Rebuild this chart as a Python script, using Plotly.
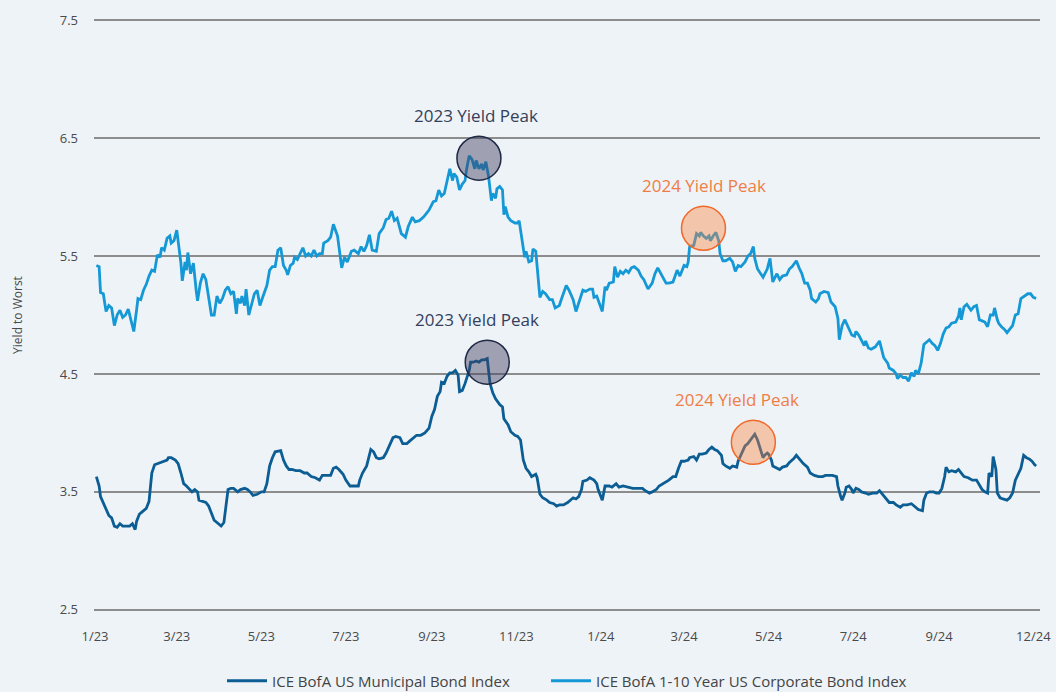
import plotly.graph_objects as go

# ---------------- data ----------------
corp_dates = [
    "2023-01-02","2023-01-04","2023-01-05","2023-01-07","2023-01-09","2023-01-11","2023-01-13","2023-01-15",
    "2023-01-17","2023-01-19","2023-01-21","2023-01-23","2023-01-25","2023-01-27","2023-01-29","2023-01-31",
    "2023-02-01","2023-02-03","2023-02-05","2023-02-07","2023-02-09","2023-02-11","2023-02-13","2023-02-15",
    "2023-02-17","2023-02-18","2023-02-20","2023-02-22","2023-02-24","2023-02-25","2023-02-27","2023-03-01",
    "2023-03-02","2023-03-04","2023-03-05","2023-03-07","2023-03-08","2023-03-09","2023-03-11","2023-03-13",
    "2023-03-15","2023-03-16","2023-03-18","2023-03-20","2023-03-22","2023-03-24","2023-03-26","2023-03-28",
    "2023-03-30","2023-04-01","2023-04-03","2023-04-05","2023-04-07","2023-04-09","2023-04-11","2023-04-13",
    "2023-04-14","2023-04-16","2023-04-17","2023-04-19","2023-04-20","2023-04-22","2023-04-24","2023-04-26",
    "2023-04-28","2023-04-30","2023-05-02","2023-05-05","2023-05-07","2023-05-09","2023-05-11","2023-05-13",
    "2023-05-15","2023-05-17","2023-05-19","2023-05-20","2023-05-22","2023-05-24","2023-05-25","2023-05-27",
    "2023-05-29","2023-05-31","2023-06-02","2023-06-04","2023-06-06","2023-06-08","2023-06-10","2023-06-12",
    "2023-06-14","2023-06-15","2023-06-18","2023-06-20","2023-06-22","2023-06-24","2023-06-25","2023-06-28",
    "2023-06-30","2023-07-02","2023-07-05","2023-07-07","2023-07-10","2023-07-12","2023-07-14","2023-07-16",
    "2023-07-18","2023-07-20","2023-07-23","2023-07-25","2023-07-28","2023-07-30","2023-08-01","2023-08-03",
    "2023-08-05","2023-08-07","2023-08-10","2023-08-13","2023-08-15","2023-08-18","2023-08-20","2023-08-23",
    "2023-08-26","2023-08-28","2023-08-30","2023-09-02","2023-09-04","2023-09-06","2023-09-08","2023-09-10",
    "2023-09-12","2023-09-14","2023-09-16","2023-09-17","2023-09-19","2023-09-21","2023-09-23","2023-09-25",
    "2023-09-26","2023-09-28","2023-09-30","2023-10-02","2023-10-03","2023-10-05","2023-10-07","2023-10-08",
    "2023-10-10","2023-10-12","2023-10-14","2023-10-15","2023-10-17","2023-10-18","2023-10-20","2023-10-22",
    "2023-10-23","2023-10-24","2023-10-26","2023-10-28","2023-10-31","2023-11-02","2023-11-03","2023-11-05",
    "2023-11-07","2023-11-08","2023-11-10","2023-11-12","2023-11-13","2023-11-15","2023-11-18","2023-11-20",
    "2023-11-22","2023-11-25","2023-11-27","2023-11-29","2023-12-02","2023-12-04","2023-12-07","2023-12-09",
    "2023-12-12","2023-12-14","2023-12-16","2023-12-19","2023-12-21","2023-12-24","2023-12-26","2023-12-27",
    "2023-12-29","2023-12-31",
    "2024-01-02","2024-01-04","2024-01-05","2024-01-07","2024-01-10","2024-01-11","2024-01-13","2024-01-15",
    "2024-01-17","2024-01-19","2024-01-21","2024-01-23","2024-01-25","2024-01-28","2024-01-30","2024-02-01",
    "2024-02-04","2024-02-07","2024-02-09","2024-02-11","2024-02-14","2024-02-17","2024-02-19","2024-02-22",
    "2024-02-25","2024-02-27","2024-03-01","2024-03-03","2024-03-04","2024-03-05","2024-03-08","2024-03-10",
    "2024-03-12","2024-03-13","2024-03-15","2024-03-17","2024-03-19","2024-03-20","2024-03-22","2024-03-24",
    "2024-03-26","2024-03-27","2024-03-29","2024-03-31","2024-04-03","2024-04-05","2024-04-07","2024-04-09",
    "2024-04-11","2024-04-14","2024-04-16","2024-04-18","2024-04-20","2024-04-21","2024-04-23","2024-04-25",
    "2024-04-27","2024-04-30","2024-05-02","2024-05-04","2024-05-05","2024-05-07","2024-05-09","2024-05-11",
    "2024-05-14","2024-05-16","2024-05-18","2024-05-20","2024-05-21","2024-05-23","2024-05-25","2024-05-27",
    "2024-05-29","2024-05-31","2024-06-01","2024-06-04","2024-06-06","2024-06-07","2024-06-10","2024-06-13",
    "2024-06-15","2024-06-18","2024-06-20","2024-06-21","2024-06-23","2024-06-25","2024-06-27","2024-06-30",
    "2024-07-02","2024-07-03","2024-07-05","2024-07-07","2024-07-09","2024-07-10","2024-07-12","2024-07-14",
    "2024-07-17","2024-07-20","2024-07-21","2024-07-23","2024-07-26","2024-07-27","2024-07-30","2024-08-01",
    "2024-08-02","2024-08-04","2024-08-06","2024-08-08","2024-08-10","2024-08-12","2024-08-14","2024-08-15",
    "2024-08-17","2024-08-19","2024-08-21","2024-08-23","2024-08-25","2024-08-27","2024-08-29","2024-08-31",
    "2024-09-02","2024-09-04","2024-09-06","2024-09-08","2024-09-10","2024-09-13","2024-09-15","2024-09-16",
    "2024-09-17","2024-09-19","2024-09-21","2024-09-24","2024-09-26","2024-09-28","2024-09-30","2024-10-02",
    "2024-10-04","2024-10-06","2024-10-08","2024-10-10","2024-10-11","2024-10-13","2024-10-14","2024-10-16",
    "2024-10-18","2024-10-20","2024-10-22","2024-10-24","2024-10-26","2024-10-28","2024-10-30","2024-11-02",
    "2024-11-04","2024-11-06","2024-11-08","2024-11-10",
]
corp_yield = [
    5.42,5.41,5.19,5.18,5.03,5.08,5.06,4.91,
    5.00,5.04,4.98,5.00,5.05,4.96,4.86,5.04,
    5.14,5.13,5.21,5.26,5.33,5.38,5.37,5.51,
    5.49,5.57,5.55,5.65,5.67,5.61,5.63,5.72,
    5.63,5.44,5.29,5.45,5.38,5.53,5.35,5.44,
    5.21,5.12,5.27,5.35,5.30,5.13,5.00,5.00,
    5.16,5.10,5.14,5.21,5.24,5.18,5.20,5.01,
    5.14,5.10,5.16,5.08,5.22,5.00,5.10,5.18,
    5.21,5.08,5.15,5.25,5.38,5.41,5.41,5.55,
    5.57,5.42,5.38,5.34,5.42,5.44,5.49,5.47,
    5.52,5.57,5.50,5.52,5.50,5.55,5.50,5.52,
    5.52,5.61,5.63,5.66,5.77,5.69,5.67,5.40,
    5.49,5.45,5.54,5.55,5.52,5.58,5.54,5.59,
    5.68,5.55,5.54,5.69,5.74,5.81,5.82,5.88,
    5.80,5.82,5.69,5.66,5.75,5.83,5.79,5.80,
    5.83,5.86,5.89,5.96,5.97,6.06,6.01,6.03,
    6.13,6.24,6.14,6.20,6.17,6.06,6.11,6.14,
    6.23,6.35,6.32,6.24,6.31,6.24,6.28,6.23,
    6.30,6.17,5.97,6.03,5.99,6.07,6.09,6.06,
    5.85,5.92,5.83,5.80,5.78,5.78,5.80,5.66,
    5.49,5.54,5.45,5.46,5.56,5.54,5.15,5.20,
    5.18,5.13,5.13,5.06,5.08,5.15,5.25,5.21,
    5.13,5.03,5.10,5.21,5.20,5.22,5.22,5.15,
    5.16,5.10,
    5.03,5.24,5.21,5.27,5.28,5.41,5.32,5.37,
    5.35,5.38,5.36,5.40,5.41,5.38,5.33,5.30,
    5.22,5.27,5.35,5.40,5.34,5.27,5.27,5.28,
    5.38,5.33,5.42,5.41,5.45,5.58,5.59,5.69,
    5.67,5.70,5.67,5.65,5.67,5.63,5.67,5.70,
    5.63,5.52,5.46,5.46,5.48,5.45,5.37,5.42,
    5.41,5.45,5.50,5.52,5.58,5.48,5.39,5.35,
    5.32,5.39,5.48,5.28,5.30,5.35,5.30,5.33,
    5.34,5.39,5.41,5.44,5.46,5.40,5.35,5.27,
    5.27,5.21,5.14,5.11,5.14,5.18,5.20,5.19,
    5.11,5.07,4.97,4.79,4.91,4.96,4.91,4.83,
    4.82,4.86,4.83,4.79,4.74,4.78,4.72,4.71,
    4.73,4.78,4.73,4.64,4.59,4.55,4.53,4.50,
    4.46,4.49,4.47,4.47,4.44,4.51,4.48,4.53,
    4.50,4.59,4.75,4.77,4.79,4.76,4.74,4.70,
    4.76,4.84,4.89,4.90,4.93,4.94,4.99,5.06,
    4.96,5.07,5.09,5.04,5.07,5.08,4.96,4.95,
    4.94,4.90,5.00,5.00,5.06,4.96,4.93,4.90,
    4.88,4.85,4.88,4.91,5.00,5.01,5.14,5.16,
    5.18,5.18,5.15,5.14,
]

muni_dates = [
    "2023-01-02","2023-01-04","2023-01-05","2023-01-07","2023-01-09","2023-01-11","2023-01-13","2023-01-15",
    "2023-01-17","2023-01-19","2023-01-21","2023-01-24","2023-01-26","2023-01-28","2023-01-30","2023-01-31",
    "2023-02-02","2023-02-04","2023-02-07","2023-02-09","2023-02-10","2023-02-11","2023-02-13","2023-02-15",
    "2023-02-17","2023-02-19","2023-02-22","2023-02-23","2023-02-25","2023-02-28","2023-03-02","2023-03-04",
    "2023-03-06","2023-03-08","2023-03-10","2023-03-12","2023-03-14","2023-03-16","2023-03-17","2023-03-20",
    "2023-03-22","2023-03-24","2023-03-26","2023-03-28","2023-03-30","2023-04-02","2023-04-04","2023-04-05",
    "2023-04-07","2023-04-09","2023-04-11","2023-04-14","2023-04-16","2023-04-19","2023-04-21","2023-04-23",
    "2023-04-25","2023-04-28","2023-05-01","2023-05-03","2023-05-05","2023-05-07","2023-05-09","2023-05-11",
    "2023-05-14","2023-05-15","2023-05-17","2023-05-19","2023-05-21","2023-05-23","2023-05-26","2023-05-29",
    "2023-06-01","2023-06-03","2023-06-06","2023-06-09","2023-06-12","2023-06-14","2023-06-17","2023-06-20",
    "2023-06-22","2023-06-24","2023-06-26","2023-06-29","2023-07-01","2023-07-04","2023-07-07","2023-07-10",
    "2023-07-11","2023-07-13","2023-07-16","2023-07-18","2023-07-19","2023-07-21","2023-07-23","2023-07-25",
    "2023-07-28","2023-07-30","2023-08-01","2023-08-04","2023-08-06","2023-08-09","2023-08-11","2023-08-14",
    "2023-08-16","2023-08-19","2023-08-21","2023-08-24","2023-08-27","2023-08-30","2023-09-01","2023-09-03",
    "2023-09-05","2023-09-07","2023-09-08","2023-09-10","2023-09-12","2023-09-14","2023-09-16","2023-09-18",
    "2023-09-20","2023-09-21","2023-09-23","2023-09-25","2023-09-28","2023-09-29","2023-10-01","2023-10-03",
    "2023-10-05","2023-10-07","2023-10-09","2023-10-11","2023-10-12","2023-10-13","2023-10-15","2023-10-17",
    "2023-10-20","2023-10-22","2023-10-23","2023-10-26","2023-10-28","2023-10-31","2023-11-02","2023-11-04",
    "2023-11-06","2023-11-08","2023-11-10","2023-11-12","2023-11-15","2023-11-16","2023-11-18","2023-11-20",
    "2023-11-23","2023-11-25","2023-11-28","2023-11-30","2023-12-02","2023-12-05","2023-12-08","2023-12-10",
    "2023-12-12","2023-12-14","2023-12-16","2023-12-18","2023-12-19","2023-12-22","2023-12-24","2023-12-27",
    "2023-12-29","2023-12-30",
    "2024-01-01","2024-01-02","2024-01-03","2024-01-04","2024-01-07","2024-01-09","2024-01-12","2024-01-14",
    "2024-01-17","2024-01-20","2024-01-24","2024-01-28","2024-01-31","2024-02-02","2024-02-05","2024-02-07",
    "2024-02-10","2024-02-12","2024-02-15","2024-02-17","2024-02-19","2024-02-22","2024-02-24","2024-02-26",
    "2024-02-28","2024-03-01","2024-03-04","2024-03-05","2024-03-08","2024-03-10","2024-03-12","2024-03-14",
    "2024-03-17","2024-03-19","2024-03-21","2024-03-23","2024-03-25","2024-03-28","2024-03-29","2024-03-31",
    "2024-04-03","2024-04-05","2024-04-08","2024-04-09","2024-04-11","2024-04-14","2024-04-16","2024-04-18",
    "2024-04-20","2024-04-21","2024-04-23","2024-04-25","2024-04-27","2024-04-28","2024-04-30","2024-05-01",
    "2024-05-03","2024-05-04","2024-05-07","2024-05-09","2024-05-11","2024-05-14","2024-05-16","2024-05-19",
    "2024-05-21","2024-05-24","2024-05-26","2024-05-29","2024-05-31","2024-06-03","2024-06-06","2024-06-09",
    "2024-06-11","2024-06-14","2024-06-16","2024-06-19","2024-06-20","2024-06-22","2024-06-23","2024-06-25",
    "2024-06-26","2024-06-28","2024-06-30","2024-07-01","2024-07-03","2024-07-05","2024-07-07","2024-07-10",
    "2024-07-12","2024-07-15","2024-07-18","2024-07-20","2024-07-22","2024-07-25","2024-07-27","2024-07-30",
    "2024-08-01","2024-08-04","2024-08-06","2024-08-09","2024-08-12","2024-08-14","2024-08-17","2024-08-20",
    "2024-08-21","2024-08-23","2024-08-25","2024-08-28","2024-08-30","2024-09-01","2024-09-03","2024-09-05",
    "2024-09-06","2024-09-08","2024-09-10","2024-09-13","2024-09-15","2024-09-17","2024-09-19","2024-09-22",
    "2024-09-25","2024-09-28","2024-09-30","2024-10-02","2024-10-04","2024-10-06","2024-10-07","2024-10-09",
    "2024-10-10","2024-10-12","2024-10-13","2024-10-15","2024-10-17","2024-10-20","2024-10-22","2024-10-24",
    "2024-10-26","2024-10-28","2024-10-30","2024-11-01","2024-11-03","2024-11-05","2024-11-07","2024-11-09",
    "2024-11-10",
]
muni_yield = [
    3.63,3.55,3.46,3.41,3.35,3.30,3.28,3.21,
    3.20,3.23,3.21,3.21,3.21,3.23,3.18,3.25,
    3.31,3.33,3.36,3.42,3.55,3.66,3.73,3.74,
    3.75,3.76,3.77,3.79,3.79,3.77,3.74,3.66,
    3.57,3.55,3.52,3.50,3.52,3.50,3.43,3.42,
    3.41,3.38,3.32,3.26,3.24,3.21,3.24,3.35,
    3.52,3.53,3.53,3.50,3.52,3.53,3.52,3.50,
    3.47,3.48,3.50,3.50,3.57,3.72,3.79,3.84,
    3.85,3.85,3.77,3.72,3.69,3.69,3.68,3.68,
    3.66,3.66,3.63,3.62,3.60,3.64,3.64,3.64,
    3.70,3.71,3.69,3.65,3.60,3.55,3.55,3.55,
    3.60,3.66,3.72,3.81,3.86,3.84,3.79,3.78,
    3.79,3.83,3.88,3.96,3.97,3.96,3.91,3.91,
    3.93,3.96,3.98,3.98,4.00,4.04,4.14,4.20,
    4.31,4.35,4.43,4.42,4.48,4.51,4.51,4.53,
    4.49,4.35,4.36,4.42,4.53,4.60,4.60,4.61,
    4.60,4.62,4.62,4.63,4.51,4.42,4.34,4.29,
    4.24,4.22,4.12,4.07,4.01,3.98,3.97,3.94,
    3.77,3.70,3.67,3.63,3.65,3.62,3.48,3.45,
    3.43,3.41,3.40,3.38,3.39,3.39,3.41,3.43,
    3.45,3.44,3.46,3.52,3.59,3.60,3.62,3.60,
    3.57,3.52,
    3.46,3.43,3.49,3.55,3.55,3.54,3.57,3.54,
    3.55,3.54,3.53,3.53,3.53,3.51,3.49,3.50,
    3.52,3.55,3.57,3.59,3.60,3.63,3.63,3.70,
    3.76,3.76,3.77,3.79,3.80,3.77,3.82,3.82,
    3.83,3.86,3.88,3.86,3.85,3.81,3.74,3.72,
    3.70,3.72,3.71,3.76,3.81,3.89,3.91,3.94,
    3.98,3.99,3.94,3.87,3.79,3.81,3.83,3.82,
    3.77,3.72,3.70,3.69,3.71,3.72,3.75,3.78,
    3.81,3.77,3.74,3.71,3.66,3.64,3.63,3.63,
    3.64,3.64,3.64,3.63,3.55,3.46,3.43,3.49,
    3.54,3.55,3.52,3.49,3.53,3.52,3.50,3.49,
    3.48,3.49,3.49,3.51,3.48,3.44,3.41,3.41,
    3.39,3.37,3.39,3.39,3.40,3.38,3.35,3.34,
    3.43,3.49,3.50,3.50,3.49,3.49,3.53,3.63,
    3.71,3.67,3.68,3.67,3.69,3.66,3.63,3.62,
    3.60,3.60,3.56,3.52,3.50,3.49,3.66,3.63,
    3.80,3.69,3.49,3.45,3.44,3.43,3.45,3.49,
    3.60,3.65,3.70,3.81,3.79,3.78,3.76,3.73,
    3.72,
]

series_names = ["ICE BofA US Municipal Bond Index", "ICE BofA 1-10 Year US Corporate Bond Index"]

# x-axis ticks (last label sits at the end of the data)
tick_dates = ["2023-01-01","2023-03-01","2023-05-01","2023-07-01","2023-09-01","2023-11-01",
              "2024-01-01","2024-03-01","2024-05-01","2024-07-01","2024-09-01","2024-11-08"]
tick_labels = ["1/23","3/23","5/23","7/23","9/23","11/23","1/24","3/24","5/24","7/24","9/24","12/24"]
y_ticks = [2.5, 3.5, 4.5, 5.5, 6.5, 7.5]

# yield-peak call-outs
peak_labels = ["2023 Yield Peak", "2023 Yield Peak", "2024 Yield Peak", "2024 Yield Peak"]
peak_dates = ["2023-10-05", "2023-10-11", "2024-03-15", "2024-04-20"]
peak_values = [6.33, 4.60, 5.735, 3.92]

# ---------------- styling ----------------
BG = "#eef3f7"
MUNI_COLOR = "#0b5d93"
CORP_COLOR = "#1598d6"
GRID = "#8c8c8c"
FONT = "Open Sans, Noto Sans, sans-serif"
peak_styles = [
    dict(fill="rgba(62,62,95,0.45)", line="#1e2945", text="#34405c", dx=-3),
    dict(fill="rgba(62,62,95,0.45)", line="#1e2945", text="#34405c", dx=-10),
    dict(fill="rgba(250,130,60,0.40)", line="#f0692a", text="#f07d45", dx=1),
    dict(fill="rgba(250,130,60,0.40)", line="#f0692a", text="#f07d45", dx=-16),
]

fig = go.Figure()
fig.add_trace(go.Scatter(x=muni_dates, y=muni_yield, mode="lines", name=series_names[0],
                         line=dict(color=MUNI_COLOR, width=2.8), legend="legend"))
fig.add_trace(go.Scatter(x=corp_dates, y=corp_yield, mode="lines", name=series_names[1],
                         line=dict(color=CORP_COLOR, width=2.8), legend="legend2"))

R = 22
for lab, d, v, st in zip(peak_labels, peak_dates, peak_values, peak_styles):
    fig.add_shape(type="circle", xref="x", yref="y",
                  xsizemode="pixel", ysizemode="pixel",
                  xanchor=d, yanchor=v, x0=-R, x1=R, y0=-R, y1=R,
                  fillcolor=st["fill"], line=dict(color=st["line"], width=1.5),
                  layer="above")
    fig.add_annotation(x=d, y=v, text=lab, showarrow=False,
                       xshift=st["dx"], yshift=43,
                       font=dict(family=FONT, size=17, color=st["text"]))

legend_common = dict(orientation="h", xanchor="left", yref="container",
                     y=(692 - 681) / 692, yanchor="middle",
                     font=dict(size=15, color="#444444"), itemwidth=40,
                     bgcolor="rgba(0,0,0,0)")

fig.update_layout(
    width=1056, height=692,
    paper_bgcolor=BG, plot_bgcolor=BG,
    margin=dict(l=94, r=16, t=19, b=81, autoexpand=False),
    font=dict(family=FONT, color="#4a4a4a"),
    showlegend=True,
    legend=dict(x=(222 - 94) / 946, **legend_common),
    legend2=dict(x=(546 - 94) / 946, **legend_common),
    xaxis=dict(type="date", range=["2022-12-31 07:00", "2024-11-12 19:00"],
               tickmode="array", tickvals=tick_dates, ticktext=tick_labels,
               showgrid=False, zeroline=False, showline=False, ticks="", automargin=False,
               tickfont=dict(size=13, color="#4a4a4a"), ticklabelstandoff=16),
    yaxis=dict(range=[2.49, 7.51], tickmode="array", tickvals=y_ticks,
               ticktext=[f"{t:.1f}" for t in y_ticks], automargin=False,
               showgrid=True, gridcolor=GRID, gridwidth=2, zeroline=False, showline=False,
               ticks="", tickfont=dict(size=13, color="#4a4a4a"), ticklabelstandoff=15,
               title=dict(text="Yield to Worst", font=dict(size=12, color="#4a4a4a"), standoff=34)),
)

fig.write_html("out.html", config={"displayModeBar": False},
               post_script="document.body.style.margin='0px';document.body.style.overflow='hidden';")
